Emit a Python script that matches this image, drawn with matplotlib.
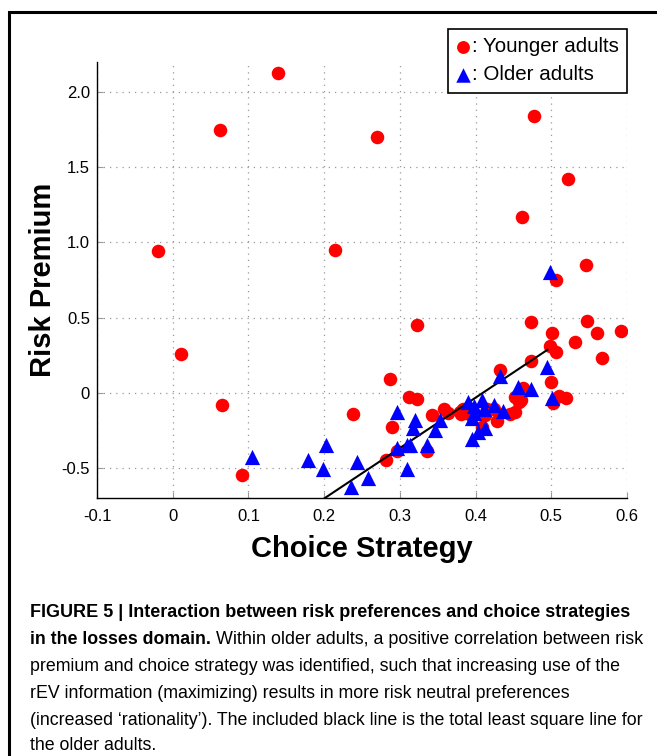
import numpy as np
import matplotlib
matplotlib.use('Agg')
import matplotlib.pyplot as plt
from matplotlib.patches import Rectangle

plt.rcParams['font.family'] = ['Liberation Sans', 'DejaVu Sans']

# younger adults (red circles)
young_x = [0.139, 0.062, 0.270, 0.477, 0.522, -0.020, 0.214, 0.461, 0.546, 0.506,
           0.011, 0.065, 0.092, 0.322, 0.287, 0.238, 0.289, 0.282, 0.312, 0.322,
           0.296, 0.336, 0.473, 0.547, 0.501, 0.561, 0.592, 0.531, 0.498, 0.506,
           0.567, 0.473, 0.432, 0.499, 0.462, 0.510, 0.520, 0.502, 0.452, 0.460,
           0.358, 0.364, 0.342, 0.383, 0.381, 0.388, 0.415, 0.424, 0.413, 0.428,
           0.408, 0.445, 0.452, 0.458, 0.379]
young_y = [2.13, 1.75, 1.70, 1.84, 1.42, 0.94, 0.95, 1.17, 0.85, 0.75,
           0.26, -0.08, -0.545, 0.45, 0.09, -0.14, -0.225, -0.45, -0.025, -0.04,
           -0.385, -0.385, 0.47, 0.48, 0.40, 0.40, 0.41, 0.34, 0.31, 0.27,
           0.23, 0.21, 0.15, 0.07, 0.03, -0.02, -0.035, -0.07, -0.03, -0.05,
           -0.11, -0.135, -0.15, -0.11, -0.14, -0.135, -0.11, -0.11, -0.15, -0.19,
           -0.23, -0.14, -0.125, -0.06, -0.125]

# older adults (blue triangles)
old_x = [0.105, 0.179, 0.203, 0.198, 0.243, 0.236, 0.258, 0.296, 0.309, 0.313,
         0.296, 0.309, 0.320, 0.318, 0.336, 0.347, 0.353, 0.390, 0.398, 0.408,
         0.411, 0.398, 0.395, 0.403, 0.395, 0.425, 0.436, 0.432, 0.456, 0.473,
         0.494, 0.498, 0.501, 0.413]
old_y = [-0.43, -0.445, -0.345, -0.51, -0.46, -0.63, -0.565, -0.125, -0.345, -0.345,
         -0.37, -0.51, -0.18, -0.235, -0.345, -0.245, -0.18, -0.06, -0.09, -0.045,
         -0.11, -0.135, -0.17, -0.26, -0.31, -0.08, -0.12, 0.11, 0.035, 0.025,
         0.17, 0.80, -0.035, -0.235]

# total least squares line for older adults (end points)
fit_x = [0.201, 0.495]
fit_y = [-0.70, 0.286]

xticks = [-0.1, 0, 0.1, 0.2, 0.3, 0.4, 0.5, 0.6]
xticklabels = ['-0.1', '0', '0.1', '0.2', '0.3', '0.4', '0.5', '0.6']
yticks = [-0.5, 0, 0.5, 1.0, 1.5, 2.0]
yticklabels = ['-0.5', '0', '0.5', '1.0', '1.5', '2.0']

W, H = 657, 756
fig = plt.figure(figsize=(W / 100, H / 100), dpi=100)
ax = fig.add_axes([97 / W, 1 - 498 / H, 530 / W, 436 / H])

ax.scatter(young_x, young_y, s=95, c='#ff0000', marker='o', linewidths=0,
           zorder=3, label=': Younger adults')
ax.plot(fit_x, fit_y, color='black', lw=1.5, zorder=4)
ax.scatter(old_x, old_y, s=120, c='#0000ff', marker='^', linewidths=0,
           zorder=5, label=': Older adults')

ax.set_xlim(-0.1, 0.6)
ax.set_ylim(-0.7, 2.2)
ax.set_xticks(xticks)
ax.set_xticklabels(xticklabels)
ax.set_yticks(yticks)
ax.set_yticklabels(yticklabels)
ax.tick_params(direction='in', length=4, color='#999999', labelsize=12)
ax.tick_params(axis='x', pad=8)
ax.tick_params(axis='y', pad=5)
ax.grid(True, linestyle=(0, (1, 4)), color='#999999', lw=0.9)
ax.set_axisbelow(True)
for s in ['top', 'right']:
    ax.spines[s].set_visible(False)
for s in ['left', 'bottom']:
    ax.spines[s].set_linewidth(1.0)

ax.set_xlabel('Choice Strategy', fontsize=21, fontweight='bold', labelpad=7.8)
ax.set_ylabel('Risk Premium', fontsize=21, fontweight='bold', labelpad=3.5)

leg = ax.legend(loc='upper right', bbox_to_anchor=(1.0, 1.0757), borderaxespad=0,
                fontsize=14.8, fancybox=False, framealpha=1, edgecolor='black',
                handlelength=0.6, handletextpad=0.15, borderpad=0.4,
                labelspacing=0.45, scatterpoints=1, markerscale=0.95)
leg.get_frame().set_linewidth(1.2)

# outer frame
fig.patches.append(Rectangle((8.5 / W, -0.1), 1.2, 1.1 - 12 / H,
                             transform=fig.transFigure, fill=False,
                             lw=2.2, edgecolor='black'))

# caption
cx = 30 / W
base = [617, 644, 671, 698, 725, 750]
bold1 = 'FIGURE 5 | Interaction between risk preferences and choice strategies'
bold2 = 'in the losses domain.'
reg2 = ' Within older adults, a positive correlation between risk'
lines = ['premium and choice strategy was identified, such that increasing use of the',
         'rEV information (maximizing) results in more risk neutral preferences',
         '(increased \u2018rationality\u2019). The included black line is the total least square line for',
         'the older adults.']

fig.text(cx, 1 - base[0] / H, bold1, fontsize=13.0, fontweight='bold', va='baseline')
t2 = fig.text(cx, 1 - base[1] / H, bold2, fontsize=12.8, fontweight='bold', va='baseline')
for i, ln in enumerate(lines):
    fig.text(cx, 1 - base[i + 2] / H, ln, fontsize=12.8, va='baseline')
fig.canvas.draw()
bb = t2.get_window_extent()
fig.text(bb.x1 / W, 1 - base[1] / H, reg2, fontsize=12.9, va='baseline')

fig.savefig('out.png', dpi=100)
